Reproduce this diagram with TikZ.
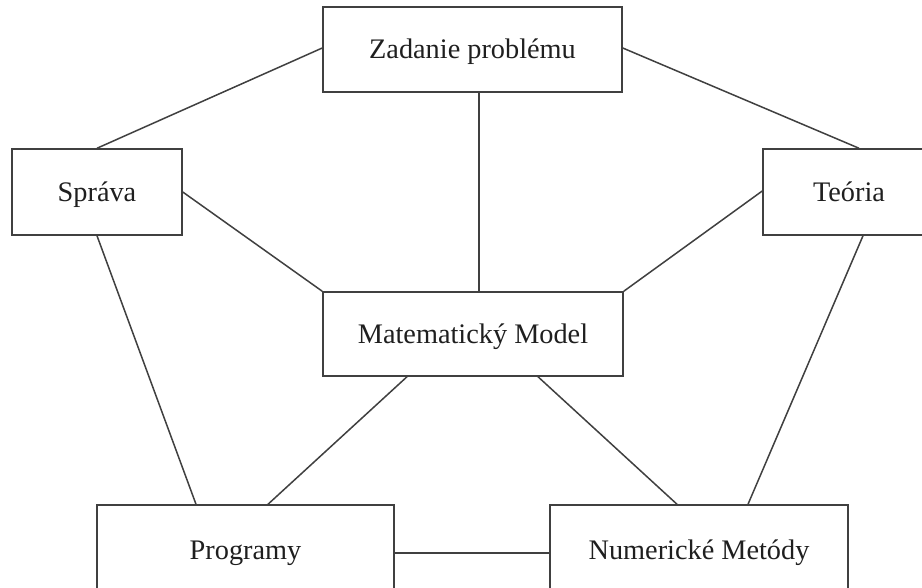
\documentclass[tikz,border=0pt]{standalone}
\usepackage{fontspec}
\setmainfont{Liberation Serif}
\begin{document}
\begin{tikzpicture}[x=1pt,y=-1pt,
  box/.style={draw=black!75,line width=1.5pt,fill=white,rectangle,inner sep=0pt,
    text height=24pt,text depth=5pt,
    font=\fontsize{28.3}{34}\selectfont,text=black!88},
  conn/.style={draw=black!75,line width=1.5pt}]
\path[use as bounding box,fill=white] (0,0) rectangle (922,588);
\clip (0,0) rectangle (922,588);
\node[box,minimum width=299pt,minimum height=85pt] (zad) at (472.5,49.5) {Zadanie problému};
\node[box,minimum width=170pt,minimum height=86pt] (spr) at (97,192) {Správa};
\node[box,minimum width=172pt,minimum height=86pt] (teo) at (849,192) {Teória};
\node[box,minimum width=300pt,minimum height=84pt] (mat) at (473,334) {Matematický Model};
\node[box,minimum width=297pt,minimum height=90pt] (prg) at (245.5,550) {Programy};
\node[box,minimum width=298pt,minimum height=90pt] (num) at (699,550) {Numerické Metódy};
\draw[conn] ([yshift=1.5pt]zad.west) -- (spr.north);
\draw[conn] ([yshift=1.5pt]zad.east) -- ([xshift=10pt]teo.north);
\draw[conn] ([xshift=6.5pt]zad.south) -- ([xshift=6pt]mat.north);
\draw[conn] (spr.east) -- (mat.north west);
\draw[conn] ([yshift=1pt]teo.west) -- (mat.north east);
\draw[conn] (spr.south) -- ([xshift=-49.5pt]prg.north);
\draw[conn] ([xshift=-66pt]mat.south) -- ([xshift=22.5pt]prg.north);
\draw[conn] ([xshift=65pt]mat.south) -- ([xshift=-22pt]num.north);
\draw[conn] ([xshift=14pt]teo.south) -- ([xshift=49pt]num.north);
\draw[conn] ([yshift=-3pt]prg.east) -- ([yshift=-3pt]num.west);
\end{tikzpicture}
\end{document}
